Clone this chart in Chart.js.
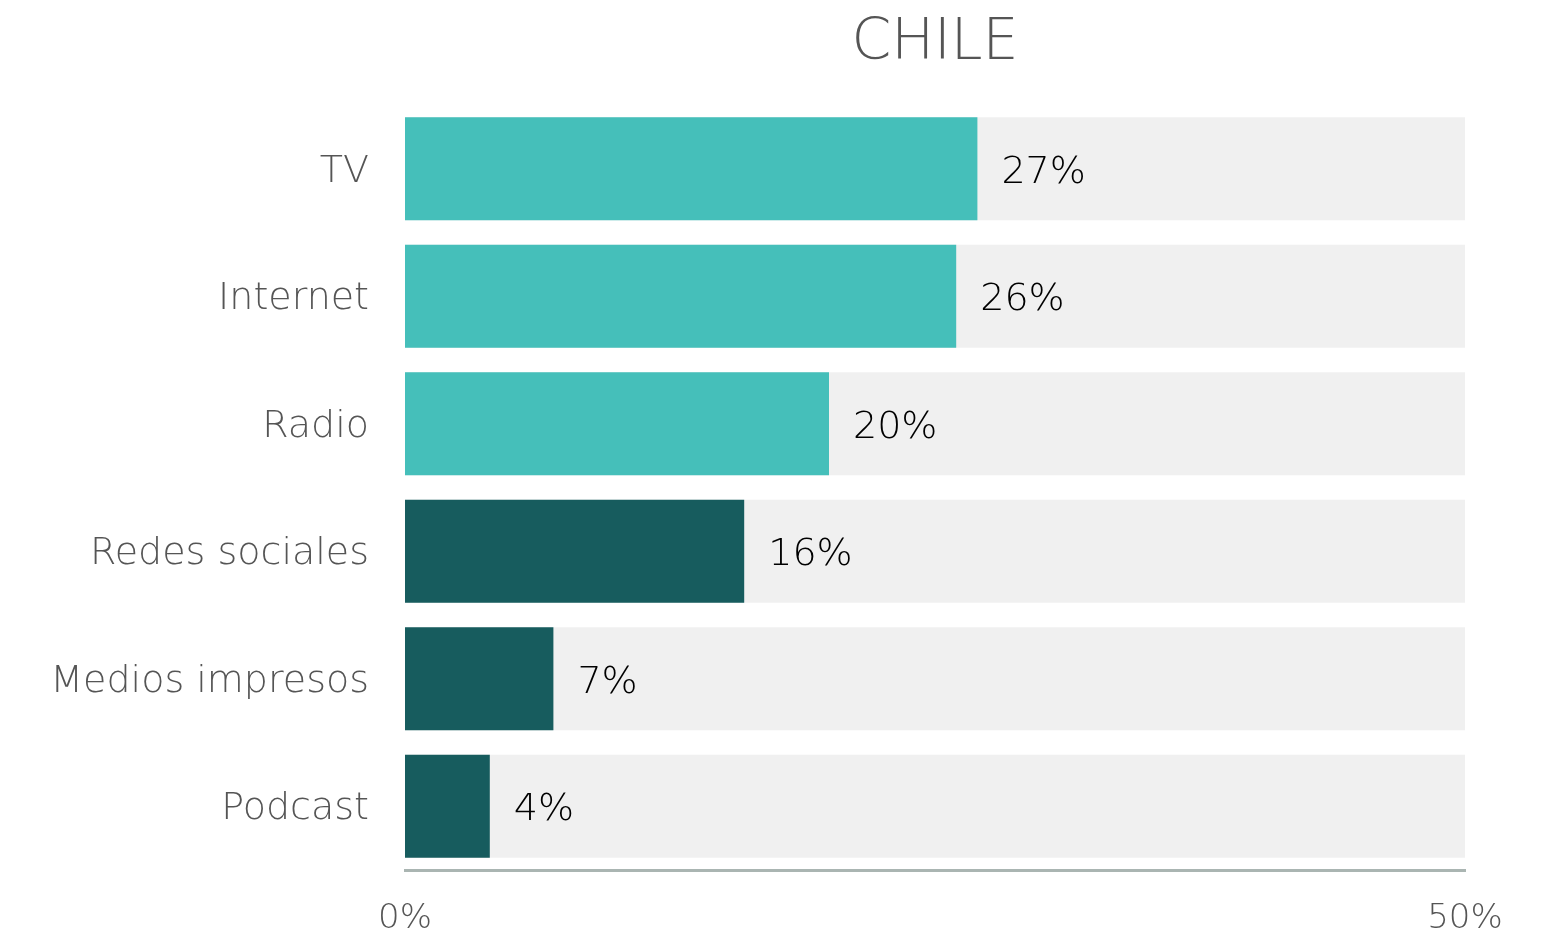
<!DOCTYPE html>
<html>
<head>
<meta charset="utf-8">
<script src="https://cdn.jsdelivr.net/npm/chart.js@4"></script>
<style>
	body { margin: 0; background: #fff; }
</style>
</head>
<body>
<canvas id="grafico" width="1568" height="945"></canvas>
<script>
// medios de información, Chile
var medios  = ['TV', 'Internet', 'Radio', 'Redes sociales', 'Medios impresos', 'Podcast'];
var valores = [27, 26, 20, 16, 7, 4];
var colores = ['#45bfba', '#45bfba', '#45bfba', '#175c5e', '#175c5e', '#175c5e'];
var maximo  = 50;
var titulo  = 'CHILE';

var fuente = '"DejaVu Sans", sans-serif';

// barra gris de fondo hasta el máximo del eje
var fondo = medios.map(function () { return maximo; });

// etiquetas con el porcentaje a la derecha de cada barra
var etiquetasValor = {
	id: 'etiquetasValor',
	afterDatasetsDraw: function (chart) {
		var ctx = chart.ctx;
		var meta = chart.getDatasetMeta(0);
		ctx.save();
		ctx.font = '300 38px ' + fuente;
		ctx.fillStyle = '#000';
		ctx.textAlign = 'left';
		ctx.textBaseline = 'middle';
		meta.data.forEach(function (bar, i) {
			ctx.fillText(valores[i] + '%', bar.x + 24, bar.y + 4);
		});
		ctx.restore();
	}
};

// título centrado sobre el área del gráfico
var tituloArriba = {
	id: 'tituloArriba',
	afterDraw: function (chart) {
		var ctx = chart.ctx;
		var area = chart.chartArea;
		ctx.save();
		ctx.font = '300 57px ' + fuente;
		ctx.fillStyle = '#555';
		ctx.textAlign = 'center';
		ctx.textBaseline = 'middle';
		ctx.fillText(titulo, (area.left + area.right) / 2, 44);
		ctx.restore();
	}
};

new Chart(document.getElementById('grafico'), {
	type: 'bar',
	data: {
		labels: medios,
		datasets: [{
			data: valores,
			backgroundColor: colores,
			barPercentage: 0.807,
			categoryPercentage: 1,
			grouped: false
		}, {
			data: fondo,
			backgroundColor: '#f0f0f0',
			barPercentage: 0.807,
			categoryPercentage: 1,
			grouped: false
		}]
	},
	options: {
		indexAxis: 'y',
		responsive: false,
		devicePixelRatio: 1,
		animation: false,
		layout: { padding: { top: 105, right: 103, left: 0, bottom: 0 } },
		plugins: {
			legend: { display: false },
			tooltip: { enabled: false },
			title: { display: false }
		},
		scales: {
			x: {
				min: 0,
				max: maximo,
				grid: { display: false, drawTicks: false },
				border: { display: true, color: '#aab5b2', width: 3 },
				ticks: {
					stepSize: 50,
					padding: 29,
					color: '#555',
					font: { family: fuente, size: 34, weight: '300' },
					callback: function (v) { return v + '%'; }
				},
				afterFit: function (scale) { scale.height = 75; }
			},
			y: {
				grid: { display: false, drawTicks: false },
				border: { display: false },
				ticks: {
					padding: 36,
					labelOffset: 3,
					color: '#555',
					font: { family: fuente, size: 38, weight: '300' }
				},
				afterFit: function (scale) { scale.width = 405; }
			}
		}
	},
	plugins: [etiquetasValor, tituloArriba]
});
</script>
</body>
</html>
